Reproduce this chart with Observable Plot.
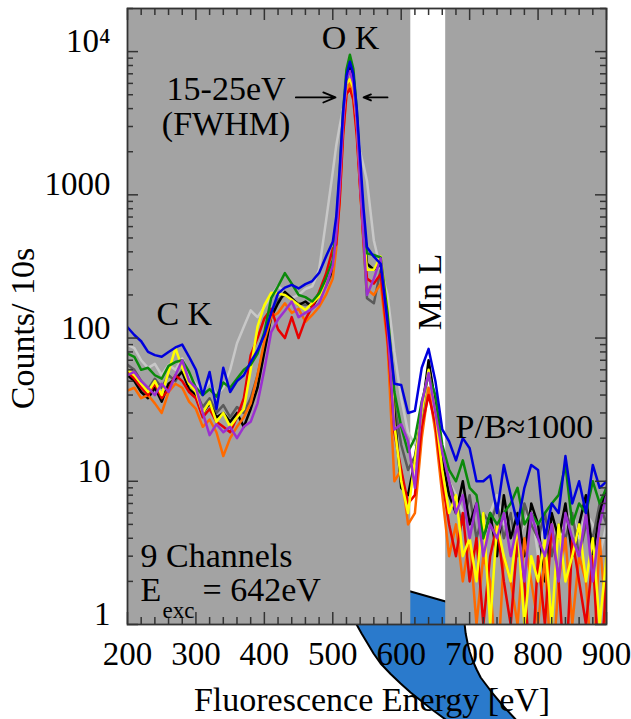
<!DOCTYPE html>
<html><head><meta charset="utf-8">
<script src="https://cdn.jsdelivr.net/npm/d3@7"></script>
<script src="https://cdn.jsdelivr.net/npm/@observablehq/plot@0.6"></script>
<style>html,body{margin:0;padding:0;background:#fff;overflow:hidden}</style>
</head><body><div id="chart"></div>
<script>
// Fluorescence energy grid [eV]
const energies = [
200,210,220,230,240,250,260,270,280,290,300,
310,320,330,340,350,360,370,380,390,400,
410,420,430,440,450,460,470,480,490,500,
505,510,515,520,525,530,535,540,545,550,
560,570,580,590,600,610,620,630,640,650,
660,670,680,690,700,710,720,730,740,750,
760,770,780,790,800,810,820,830,840,850,
860,870,880,890,900];

// Counts / 10s for the 9 channels
const lightGray = [
90,85,70,62,66,55,65,60,72,55,48,
42,50,40,45,60,92,120,156,140,165,
200,230,210,190,200,220,230,300,650,1450,
2200,3000,4000,5000,5300,4700,3500,2000,1600,1250,
480,300,200,80,38,22,18,25,45,28,
15,10,8,6,5,7,4,6,8,5,
6,4,5,7,3,5,6,4,5,6,
4,6,5,3,5];
const darkGray = [
65,60,50,44,52,45,55,50,60,48,42,
33,38,30,34,28,33,30,38,55,90,
150,185,200,185,175,170,175,195,230,290,
480,1000,3000,6200,8000,6600,3400,1200,450,190,
175,300,110,35,18,12,15,28,60,32,
16,10,7,5,8,4,6,5,7,4,
6,3,7,5,4,6,3,5,4,6,
3,5,4,7,5];
const black = [
55,50,42,38,45,36,48,52,58,44,40,
30,35,28,30,26,30,24,32,45,80,
140,175,210,190,170,180,165,200,240,300,
500,1100,3200,6500,8200,6800,3600,1400,600,330,
300,330,120,30,9,8,14,30,70,35,
14,8,6,10,5,7,4,6,3,8,
4,6,3,7,5,2,6,4,7,3,
5,8,3,6,9];
const orange = [
43,45,38,40,35,30,42,48,45,36,32,
24,27,22,15,20,24,28,35,55,95,
140,150,175,150,160,130,145,165,200,260,
420,900,2600,5200,6000,4800,2800,1100,450,220,
200,240,90,10,12,5,6,20,45,22,
8,3,5,2,4,1,3,2,0,3,
2,1,4,2,1,3,0,2,4,1,
3,2,0,4,1];
const red = [
58,52,45,40,48,38,44,55,50,42,38,
28,32,26,24,22,28,38,76,100,137,
160,115,100,140,100,135,165,210,280,420,
450,900,2600,5000,5500,4600,2600,1100,480,260,
240,280,100,22,12,7,8,24,40,25,
10,5,3,6,2,4,1,3,5,2,
1,4,2,0,3,1,5,2,0,4,
2,1,3,0,2];
const yellow = [
60,55,48,42,50,40,58,85,62,48,42,
30,36,26,30,24,28,32,60,120,170,
207,205,200,185,170,157,176,195,240,330,
600,1300,3500,6000,6400,5600,3300,1300,550,300,
300,370,160,25,10,6,14,30,60,30,
12,6,8,3,4,2,6,1,5,3,
2,5,1,3,2,4,1,5,2,3,
5,2,4,1,3];
const green = [
78,74,60,62,55,52,64,68,70,58,45,
40,44,39,49,45,52,60,65,78,110,
190,230,284,240,200,193,180,205,260,350,
600,1400,3800,7500,9500,7600,4000,1500,650,390,
380,365,150,42,24,16,20,36,55,40,
18,12,10,14,9,8,4,6,5,6,
7,9,5,6,5,6,7,8,13,5,
7,6,10,7,9];
const purple = [
55,58,50,45,40,48,42,55,70,50,45,
30,21,25,22,24,20,24,26,35,60,
110,135,155,180,140,150,160,175,230,320,
520,1100,3200,6500,7300,6000,3300,1200,500,200,
260,360,120,23,25,19,9,35,57,30,
16,10,6,8,4,7,3,5,4,6,
3,5,2,6,4,3,5,2,6,4,
3,6,2,5,8];
const blue = [
119,105,95,80,76,74,80,86,90,74,60,
40,58,32,62,42,50,55,68,82,105,
150,205,225,235,222,238,250,285,370,470,
700,1500,3800,6800,8500,7000,4000,1800,800,430,
370,330,130,48,47,30,31,62,84,50,
23,19,14,20,17,10,10,11,6,13,
8,5,9,13,12,4,7,6,15,7,
10,6,13,9,10];

const channelNames = ["light gray","dark gray","black","orange","red","yellow","green","purple","blue"];
const channelValues = [lightGray, darkGray, black, orange, red, yellow, green, purple, blue];
const channelColors = ["#c8c8c8","#5a5a5a","#000000","#ff6a00","#e80000","#ffff00","#0a8a0a","#9b30d0","#0000dd"];

// shaded (gray) energy windows, white window around the excitation energy
const grayBands = [[200, 614], [665, 900]];

// blue beam outline (energy, counts) – decorative shape
const beamE = [708.8,664.9,645.9,628.4,613.7,599.1,584.5,569.9,559.6,550.9,542.1,534.8,524.6,514.3,501.2,
               613.7,664.9,685.4,
               692.7,694.2,697.1,700.0,704.4,710.2,716.1,724.9,733.6,749.7,767.3,796.5];
const beamV = [0.1549,0.2171,0.2529,0.2946,0.3351,0.3873,0.4511,0.534,0.6273,0.737,0.8653,1,1.252,1.673,2.40,
               1.70,1.447,1.357,
               1,0.8653,0.737,0.6477,0.5606,0.485,0.4265,0.375,0.33,0.2676,0.2171,0.1549];

// ticks
const xTicks = [200,300,400,500,600,700,800,900];
const xMinor = d3.range(220, 900, 20).filter(v => v % 100 !== 0);
const yTicks = [1,10,100,1000,10000];
const yTickLabels = ["1","10","100","1000","10\u2074"];
const yMinor = [2,3,4,5,6,7,8,9,20,30,40,50,60,70,80,90,200,300,400,500,600,700,800,900,2000,3000,4000,5000,6000,7000,8000,9000,20000];

// annotations
const notes = [
  {text: "O K", x: 526, y: 12470},
  {text: "15-25eV", x: 344, y: 5490},
  {text: "(FWHM)", x: 344, y: 3100},
  {text: "C K", x: 283, y: 146},
  {text: "P/B\u22481000", x: 780, y: 24}
];
const leftNotes = [
  {text: "9 Channels", x: 219, y: 2.98},
  {text: "E", x: 219, y: 1.727},
  {text: "= 642eV", x: 309.6, y: 1.727}
];
const subNote = {text: "exc", x: 251.2, y: 1.25};
const mnNote = {text: "Mn L", x: 642, y: 210};
const arrows = [{x1: 446, x2: 504, y: 4790}, {x1: 580, x2: 545, y: 4790}];

const W = 631, H = 719, mL = 127, mR = 25, mT = 8, mB = 95;
const fw = W - mL - mR, fh = H - mT - mB;
const font = "Liberation Serif, Times New Roman, DejaVu Serif, serif";
const axisColor = "#333";

const lineMarks = channelValues.map((vals, k) =>
  Plot.line(energies.map((e, i) => ({e, v: vals[i], ch: channelNames[k]})), {
    x: "e", y: d => Math.max(d.v, 0.4), stroke: channelColors[k],
    strokeWidth: 2.5, strokeLinejoin: "round", clip: true
  })
);

const chart = Plot.plot({
  width: W, height: H,
  marginLeft: mL, marginRight: mR, marginTop: mT, marginBottom: mB,
  style: {fontFamily: font, background: "white", overflow: "visible"},
  x: {domain: [200, 900], axis: null},
  y: {type: "log", domain: [1, 20000], axis: null},
  marks: [
    Plot.line(beamE.map((e, i) => ({e, v: beamV[i]})), {x: "e", y: "v", fill: "#2a7acc", stroke: "black", strokeWidth: 2, curve: "linear"}),
    Plot.rect(grayBands, {x1: d => d[0], x2: d => d[1], y1: 1, y2: 20000, fill: "#a3a3a3"}),
    ...lineMarks,
    Plot.frame({stroke: axisColor, strokeWidth: 1.8}),
    // inward ticks
    Plot.tickX(xTicks, {x: d => d, insetTop: fh - 12, stroke: axisColor, strokeWidth: 1.5}),
    Plot.tickX(xMinor, {x: d => d, insetTop: fh - 7, stroke: axisColor, strokeWidth: 1.5}),
    Plot.tickX(xTicks, {x: d => d, insetBottom: fh - 12, stroke: axisColor, strokeWidth: 1.5}),
    Plot.tickX(xMinor, {x: d => d, insetBottom: fh - 7, stroke: axisColor, strokeWidth: 1.5}),
    Plot.tickY(yTicks, {y: d => d, insetRight: fw - 11, stroke: axisColor, strokeWidth: 1.5}),
    Plot.tickY(yMinor, {y: d => d, insetRight: fw - 6, stroke: axisColor, strokeWidth: 1.5}),
    Plot.tickY(yTicks, {y: d => d, insetLeft: fw - 11, stroke: axisColor, strokeWidth: 1.5}),
    Plot.tickY(yMinor, {y: d => d, insetLeft: fw - 6, stroke: axisColor, strokeWidth: 1.5}),
    // tick labels
    Plot.text(xTicks, {x: d => d, text: d => String(d), frameAnchor: "bottom", lineAnchor: "middle", textAnchor: "middle", dy: 30, fontSize: 33, fill: "black", fontFamily: font}),
    Plot.text(yTicks, {y: d => d, text: (d, i) => yTickLabels[i], frameAnchor: "left", lineAnchor: "middle", dx: -17, dy: -10, textAnchor: "end", fontSize: 33, fill: "black", fontFamily: font}),
    // axis titles
    Plot.text(["Fluorescence Energy [eV]"], {frameAnchor: "bottom", lineAnchor: "middle", textAnchor: "middle", dx: 5, dy: 76, fontSize: 34, fill: "black", fontFamily: font}),
    Plot.text(["Counts/ 10s"], {frameAnchor: "left", lineAnchor: "middle", textAnchor: "middle", dx: -104, dy: 12, rotate: -90, fontSize: 34, fill: "black", fontFamily: font}),
    // annotations
    Plot.text(notes, {x: "x", y: "y", text: "text", fontSize: 34, fill: "black", fontFamily: font}),
    Plot.text(leftNotes, {x: "x", y: "y", text: "text", textAnchor: "start", fontSize: 34, fill: "black", fontFamily: font}),
    Plot.text([subNote], {x: "x", y: "y", text: "text", textAnchor: "start", fontSize: 23, fill: "black", fontFamily: font}),
    Plot.text([mnNote], {x: "x", y: "y", text: "text", rotate: -90, fontSize: 34, fill: "black", fontFamily: font}),
    Plot.arrow(arrows, {x1: "x1", x2: "x2", y1: "y", y2: "y", stroke: "black", strokeWidth: 1.8, headLength: 14, headAngle: 45})
  ]
});
document.getElementById("chart").appendChild(chart);
</script>
</body></html>
